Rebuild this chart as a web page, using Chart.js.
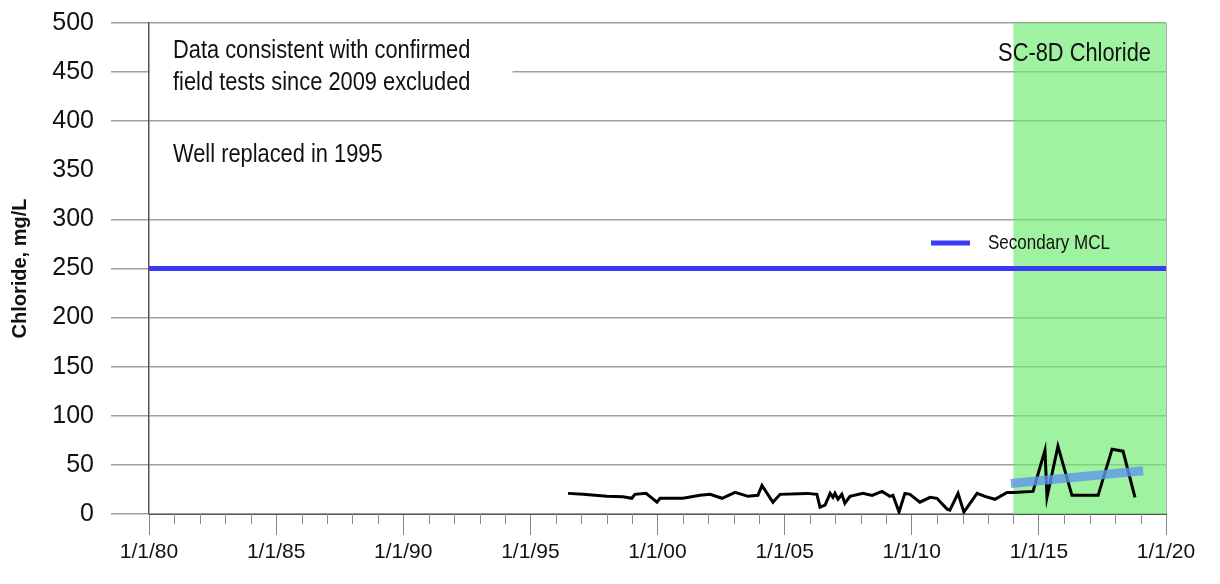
<!DOCTYPE html>
<html>
<head>
<meta charset="utf-8">
<script src="https://cdn.jsdelivr.net/npm/chart.js@4.4.1/dist/chart.umd.min.js"></script>
<style>
  html, body { margin: 0; padding: 0; background: #fff; }
  #wrap { width: 1220px; height: 584px; }
</style>
</head>
<body>
<div id="wrap"><canvas id="chart" width="1220" height="584"></canvas></div>
<script>
// sample dates (decimal years) and chloride results, mg/L
const sampleYears = [1996.48, 1997.07, 1998.01, 1998.64, 1998.99, 1999.11, 1999.55, 1999.98, 2000.10, 2001.00,
    2001.67, 2002.07, 2002.54, 2003.05, 2003.56, 2003.95, 2004.11, 2004.54, 2004.82, 2005.88,
    2006.27, 2006.39, 2006.59, 2006.79, 2006.90, 2006.98, 2007.10, 2007.25, 2007.37, 2007.57,
    2008.08, 2008.44, 2008.83, 2009.14, 2009.26, 2009.50, 2009.73, 2009.93, 2010.32, 2010.72,
    2010.99, 2011.39, 2011.50, 2011.82, 2012.05, 2012.57, 2012.88, 2013.27, 2013.75, 2013.98,
    2014.77, 2015.24, 2015.32, 2015.75, 2016.30, 2017.33, 2017.88, 2018.31, 2018.78];
const chloride = [21, 20, 18, 17.5, 16, 20, 21, 12, 16, 16,
    19, 20, 16, 22, 18, 19, 29, 12, 20, 21,
    20, 7, 9, 21, 17, 21, 15, 20, 11, 18,
    21, 19, 23, 18, 19, 2, 21, 20, 12, 17,
    16, 5, 4, 21, 2, 21, 18, 15, 22, 22,
    23, 65, 17, 69, 19, 19, 66, 64, 17];

const trendYears = [2013.9, 2019.1];
const trendValues = [31, 44];

const mclYears = [1980, 2020];
const mclValue = 250;

const shadeStart = 2014;
const shadeEnd = 2020;

const yTicks = [0, 50, 100, 150, 200, 250, 300, 350, 400, 450, 500];
const hiddenGrid = [350];

const FONT = '"Liberation Sans", Arial, sans-serif';

const zip = (xs, ys) => xs.map((x, i) => ({x: x, y: ys[i]}));

// narrow-looking text: squeeze horizontally
function narrowText(ctx, text, x, y, size, align, squeeze) {
    ctx.save();
    ctx.font = size + 'px ' + FONT;
    ctx.textAlign = align;
    ctx.textBaseline = 'middle';
    ctx.translate(x, y);
    ctx.scale(squeeze, 1);
    ctx.fillText(text, 0, 0);
    ctx.restore();
}

const decor = {
    id: 'decor',
    beforeDatasetsDraw(chart) {
        const ctx = chart.ctx, a = chart.chartArea, xs = chart.scales.x;
        ctx.save();
        // box behind the first note hides part of the 450 grid line
        ctx.fillStyle = '#fff';
        ctx.fillRect(a.left + 1, 60, xs.getPixelForValue(1994.3) - a.left - 1, 24);
        // shaded period
        const x1 = xs.getPixelForValue(shadeStart), x2 = xs.getPixelForValue(shadeEnd);
        ctx.fillStyle = 'rgba(110,236,110,0.66)';
        ctx.fillRect(x1, a.top, x2 - x1, a.bottom - a.top);
        ctx.restore();
    },
    afterDraw(chart) {
        const ctx = chart.ctx, a = chart.chartArea, xs = chart.scales.x;
        ctx.save();
        // right frame
        ctx.strokeStyle = '#b0b0b0';
        ctx.lineWidth = 1;
        ctx.beginPath();
        ctx.moveTo(a.right + 0.5, a.top);
        ctx.lineTo(a.right + 0.5, a.bottom);
        ctx.stroke();
        // minor year ticks
        ctx.strokeStyle = '#888';
        ctx.beginPath();
        for (let yr = 1980; yr <= 2020; yr++) {
            if (yr % 5 === 0) continue;
            const px = Math.round(xs.getPixelForValue(yr)) + 0.5;
            ctx.moveTo(px, a.bottom);
            ctx.lineTo(px, a.bottom + 10);
        }
        ctx.stroke();

        // notes
        ctx.fillStyle = '#111';
        narrowText(ctx, 'Data consistent with confirmed', 173, 51, 26, 'left', 0.84);
        narrowText(ctx, 'field tests since 2009 excluded', 173, 83, 26, 'left', 0.84);
        narrowText(ctx, 'Well replaced in 1995', 173, 155, 26, 'left', 0.84);
        narrowText(ctx, 'SC-8D Chloride', 1151, 54, 26, 'right', 0.84);

        // legend
        ctx.strokeStyle = '#3a3af5';
        ctx.lineWidth = 5;
        ctx.beginPath();
        ctx.moveTo(931, 243);
        ctx.lineTo(970, 243);
        ctx.stroke();
        narrowText(ctx, 'Secondary MCL', 988, 243, 21, 'left', 0.81);
        ctx.restore();
    }
};

new Chart(document.getElementById('chart'), {
    type: 'line',
    data: {
        datasets: [
            {
                label: 'Chloride',
                data: zip(sampleYears, chloride),
                borderColor: '#000',
                borderWidth: 3,
                pointRadius: 0,
                tension: 0,
                order: 1
            },
            {
                label: 'Trend',
                data: zip(trendYears, trendValues),
                borderColor: 'rgba(95,150,235,0.8)',
                borderWidth: 9,
                borderCapStyle: 'butt',
                pointRadius: 0,
                order: 0
            },
            {
                label: 'Secondary MCL',
                data: mclYears.map(x => ({x: x, y: mclValue})),
                borderColor: '#3a3af5',
                borderWidth: 5,
                pointRadius: 0,
                order: 2
            }
        ]
    },
    options: {
        responsive: false,
        animation: false,
        events: [],
        layout: { padding: { top: 23, right: 54, left: 0, bottom: 0 } },
        plugins: { legend: { display: false }, tooltip: { enabled: false } },
        scales: {
            x: {
                type: 'linear',
                min: 1980,
                max: 2020,
                afterFit(scale) { scale.height = 70; scale.paddingLeft = 0; scale.paddingRight = 0; },
                ticks: {
                    stepSize: 5,
                    autoSkip: false,
                    maxRotation: 0,
                    padding: 5,
                    color: '#111',
                    font: { family: FONT, size: 21 },
                    callback: v => '1/1/' + String(v % 100).padStart(2, '0')
                },
                grid: { drawOnChartArea: false, tickLength: 21, color: '#888' },
                border: { color: '#555', width: 1 }
            },
            y: {
                min: 0,
                max: 500,
                afterFit(scale) { scale.width = 149; scale.paddingTop = 0; scale.paddingBottom = 0; },
                afterBuildTicks(scale) { scale.ticks = yTicks.map(v => ({value: v})); },
                ticks: {
                    padding: 17,
                    color: '#111',
                    font: { family: FONT, size: 25 }
                },
                grid: {
                    tickLength: 38,
                    lineWidth: 1.5,
                    color: c => (c.tick && hiddenGrid.includes(c.tick.value)) ? 'rgba(0,0,0,0)' : '#a0a0a0'
                },
                border: { color: '#555', width: 1.5 },
                title: {
                    display: true,
                    text: 'Chloride, mg/L',
                    color: '#111',
                    padding: { top: 8, bottom: 4 },
                    font: { family: FONT, size: 20, weight: 'bold' }
                }
            }
        }
    },
    plugins: [decor]
});
</script>
</body>
</html>
